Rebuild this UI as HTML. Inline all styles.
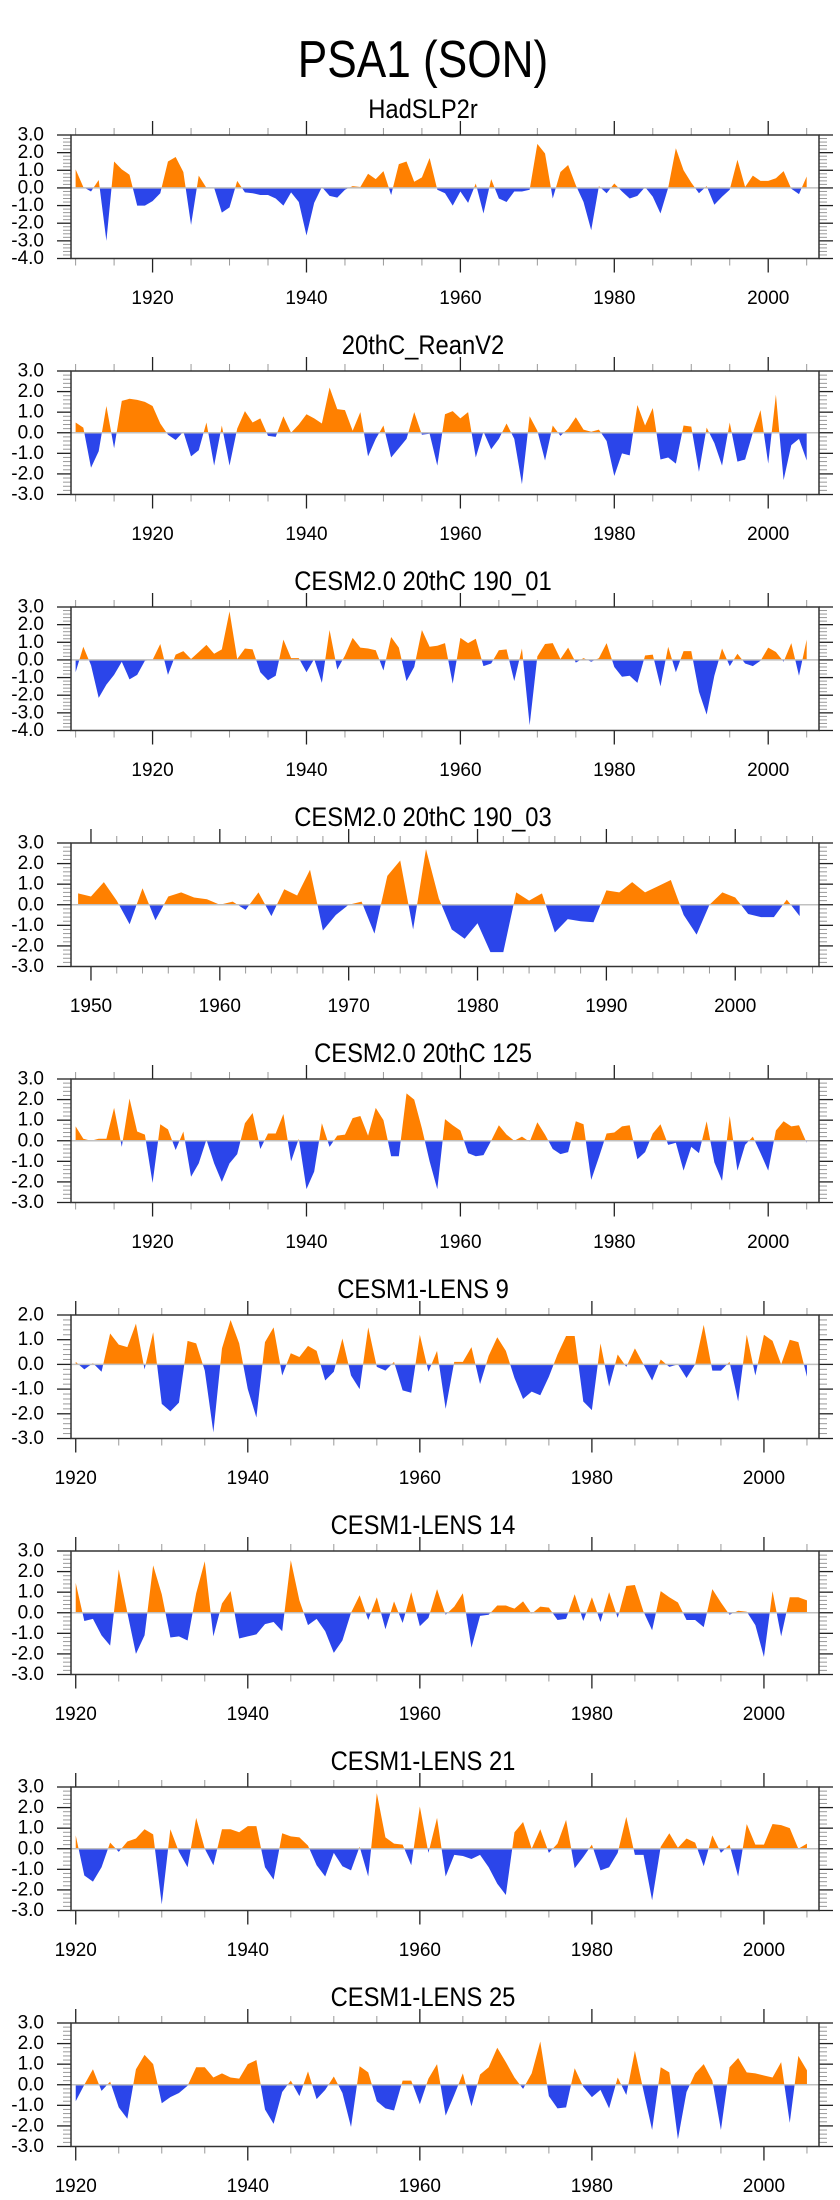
<!DOCTYPE html>
<html>
<head>
<meta charset="utf-8">
<style>
  html, body { margin: 0; padding: 0; background: #ffffff; }
  body { width: 840px; height: 2200px; overflow: hidden; }
  svg { display: block; font-family: "Liberation Sans", Arial, sans-serif; }
</style>
</head>
<body>
<svg id="chart" width="840" height="2200" viewBox="0 0 840 2200" xmlns="http://www.w3.org/2000/svg">
  <rect x="0" y="0" width="840" height="2200" fill="#ffffff"/>
  <text x="0" y="0" font-size="52" text-anchor="middle" fill="#000" transform="translate(423,77) scale(0.85,1)">PSA1 (SON)</text>
  <defs id="defs"></defs>
</svg>
<script>
// ---------- data ----------
const panelTitles = ["HadSLP2r", "20thC_ReanV2", "CESM2.0 20thC 190_01", "CESM2.0 20thC 190_03", "CESM2.0 20thC 125", "CESM1-LENS 9", "CESM1-LENS 14", "CESM1-LENS 21", "CESM1-LENS 25"];
const startYears = [1910, 1910, 1910, 1949, 1910, 1920, 1920, 1920, 1920];
const yMins = [-4, -3, -4, -3, -3, -3, -3, -3, -3];
const yMaxs = [3, 3, 3, 3, 3, 2, 3, 3, 3];
const xMins = [1909.4, 1909.4, 1909.4, 1948.45, 1909.4, 1919.45, 1919.45, 1919.45, 1919.45];
const xMaxs = [2006.6, 2006.6, 2006.6, 2006.5, 2006.6, 2006.4, 2006.4, 2006.4, 2006.4];
const majorStep = [20, 20, 20, 10, 20, 20, 20, 20, 20];
const minorStep = [5, 5, 5, 2, 5, 5, 5, 5, 5];

const hadslp2r = [
 1.05,0.05,-0.2,0.45,-3.0,1.5,1.05,0.75,-1.0,-1.0,
 -0.75,-0.3,1.5,1.75,0.9,-2.1,0.7,0.0,0.0,-1.4,
 -1.1,0.4,-0.25,-0.3,-0.4,-0.4,-0.6,-1.0,-0.25,-0.8,
 -2.7,-0.85,0.05,-0.45,-0.55,-0.1,0.1,0.05,0.8,0.5,
 0.95,-0.4,1.35,1.5,0.35,0.6,1.7,-0.1,-0.3,-1.0,
 -0.2,-0.85,0.25,-1.45,0.5,-0.6,-0.8,-0.2,-0.2,-0.1,
 2.5,1.95,-0.6,0.9,1.3,0.15,-0.8,-2.4,0.1,-0.3,
 0.25,-0.2,-0.6,-0.45,0.05,-0.5,-1.45,0.0,2.25,1.0,
 0.3,-0.3,0.1,-0.95,-0.5,-0.1,1.6,0.05,0.7,0.4,
 0.4,0.55,0.95,-0.05,-0.35,0.65];
const reanV2 = [
 0.5,0.25,-1.7,-0.9,1.3,-0.75,1.55,1.65,1.6,1.5,
 1.3,0.45,-0.1,-0.35,0.05,-1.15,-0.85,0.5,-1.6,0.35,
 -1.6,0.2,1.05,0.5,0.7,-0.15,-0.2,0.8,0.0,0.4,
 0.9,0.7,0.45,2.2,1.15,1.1,0.1,1.0,-1.15,-0.3,
 0.35,-1.2,-0.75,-0.3,1.0,-0.1,-0.05,-1.6,0.9,1.05,
 0.7,1.0,-1.2,0.05,-0.8,-0.3,0.45,-0.3,-2.5,0.8,
 0.1,-1.35,0.35,-0.15,0.2,0.75,0.15,0.05,0.15,-0.4,
 -2.1,-1.0,-1.1,1.35,0.35,1.2,-1.3,-1.2,-1.5,0.35,
 0.3,-1.9,0.25,-0.5,-1.6,0.5,-1.4,-1.3,0.0,1.1,
 -1.5,1.85,-2.3,-0.6,-0.3,-1.35];
const cesm2_190_01 = [
 -0.7,0.75,-0.3,-2.15,-1.4,-0.85,-0.1,-1.1,-0.85,-0.05,
 0.0,0.9,-0.85,0.3,0.5,0.05,0.45,0.85,0.35,0.6,
 2.75,0.05,0.65,0.6,-0.7,-1.15,-0.9,1.15,0.1,0.1,
 -0.7,0.05,-1.3,1.7,-0.55,0.25,1.25,0.7,0.65,0.55,
 -0.6,1.3,0.7,-1.2,-0.4,1.7,0.75,0.8,0.95,-1.35,
 1.25,0.95,1.2,-0.35,-0.2,0.55,0.6,-1.2,0.65,-3.7,
 0.2,0.9,0.95,0.05,0.7,-0.15,0.1,-0.1,0.1,0.95,
 -0.4,-0.95,-0.9,-1.3,0.25,0.3,-1.5,0.75,-0.7,0.5,
 0.5,-1.8,-3.1,-0.9,0.65,-0.35,0.35,-0.2,-0.35,-0.05,
 0.7,0.45,-0.1,0.95,-0.9,1.15];
const cesm2_190_03 = [
 0.55,
 0.4,1.1,0.2,-0.95,0.8,-0.75,0.4,0.6,0.35,0.27,
 0.0,0.15,-0.25,0.6,-0.55,0.75,0.45,1.7,-1.25,-0.5,
 0.0,0.15,-1.4,1.4,2.15,-1.2,2.7,0.3,-1.2,-1.65,
 -0.9,-2.3,-2.3,0.6,0.2,0.55,-1.35,-0.7,-0.8,-0.85,
 0.7,0.6,1.1,0.6,0.9,1.2,-0.5,-1.45,0.0,0.6,
 0.35,-0.45,-0.6,-0.6,0.25,-0.55];
const cesm2_125 = [
 0.7,0.1,0.0,0.1,0.1,1.6,-0.3,2.05,0.45,0.3,
 -2.05,0.8,0.55,-0.45,0.45,-1.75,-1.1,0.05,-1.1,-2.0,
 -1.1,-0.65,0.85,1.35,-0.4,0.35,0.35,1.3,-1.0,0.1,
 -2.35,-1.5,0.85,-0.3,0.25,0.3,1.1,1.2,0.25,1.6,
 1.0,-0.75,-0.75,2.3,2.0,0.6,-1.0,-2.35,1.05,0.75,
 0.5,-0.6,-0.75,-0.7,0.0,0.75,0.3,0.0,0.2,-0.05,
 0.9,0.3,-0.4,-0.65,-0.55,0.95,0.8,-1.9,-0.8,0.35,
 0.4,0.7,0.75,-0.9,-0.55,0.35,0.8,-0.2,-0.1,-1.45,
 -0.3,-0.6,0.95,-1.05,-1.95,1.2,-1.45,-0.2,0.2,-0.6,
 -1.45,0.5,0.95,0.7,0.75,-0.1];
const lens9 = [
 0.1,-0.2,0.05,-0.3,1.25,0.8,0.7,1.65,-0.2,1.3,
 -1.6,-1.9,-1.55,0.95,0.85,-0.25,-2.75,0.65,1.8,0.85,
 -1.0,-2.15,0.9,1.5,-0.45,0.45,0.3,0.75,0.55,-0.65,
 -0.3,1.05,-0.45,-1.0,1.5,-0.1,-0.25,0.1,-1.05,-1.15,
 1.2,-0.3,0.55,-1.8,0.1,0.1,0.7,-0.8,0.35,1.1,
 0.55,-0.55,-1.4,-1.1,-1.25,-0.5,0.4,1.15,1.15,-1.5,
 -1.85,0.85,-0.9,0.4,-0.1,0.65,0.0,-0.65,0.2,-0.1,
 0.0,-0.55,0.0,1.6,-0.25,-0.25,0.1,-1.5,1.2,-0.45,
 1.2,0.95,0.0,1.0,0.9,-0.5];
const lens14 = [
 1.45,-0.4,-0.3,-1.1,-1.6,2.1,0.0,-2.0,-1.1,2.3,
 0.9,-1.2,-1.15,-1.35,0.95,2.5,-1.15,0.45,1.05,-1.25,
 -1.15,-1.05,-0.55,-0.45,-0.9,2.55,0.6,-0.6,-0.3,-0.9,
 -1.95,-1.35,0.0,0.85,-0.35,0.75,-0.8,0.55,-0.5,1.0,
 -0.65,-0.25,1.15,-0.1,0.3,0.95,-1.7,-0.15,-0.1,0.35,
 0.35,0.2,0.55,-0.05,0.3,0.25,-0.35,-0.3,0.9,-0.4,
 0.75,-0.45,1.0,-0.25,1.3,1.35,0.05,-0.85,1.05,0.75,
 0.5,-0.35,-0.35,-0.7,1.15,0.5,-0.1,0.1,0.05,-0.6,
 -2.15,1.05,-1.15,0.75,0.75,0.6];
const lens21 = [
 0.65,-1.3,-1.6,-0.9,0.3,-0.15,0.35,0.5,0.95,0.7,
 -2.7,0.95,-0.15,-0.9,1.5,0.0,-0.8,0.95,0.95,0.8,
 1.1,1.1,-0.9,-1.5,0.75,0.6,0.55,0.15,-0.8,-1.35,
 -0.2,-0.85,-1.05,0.1,-1.35,2.7,0.55,0.25,0.2,-0.8,
 2.05,-0.2,1.5,-1.35,-0.3,-0.35,-0.5,-0.3,-0.9,-1.7,
 -2.25,0.8,1.3,0.0,0.95,-0.2,0.25,1.4,-0.95,-0.4,
 0.2,-1.05,-0.9,-0.2,1.55,-0.3,-0.3,-2.5,0.1,0.75,
 0.05,0.5,0.3,-0.85,0.65,-0.2,0.2,-1.35,1.2,0.2,
 0.2,1.2,1.15,1.0,0.0,0.25];
const lens25 = [
 -0.8,0.0,0.75,-0.3,0.15,-1.1,-1.65,0.75,1.45,1.0,
 -0.9,-0.6,-0.4,-0.05,0.85,0.85,0.35,0.55,0.35,0.3,
 1.0,1.2,-1.2,-1.9,-0.35,0.2,-0.55,0.65,-0.7,-0.25,
 0.4,-0.4,-2.05,0.9,0.6,-0.8,-1.15,-1.25,0.2,0.2,
 -0.95,0.3,1.0,-1.5,-0.5,0.55,-1.05,0.5,0.85,1.8,
 1.1,0.35,-0.2,0.55,2.1,-0.55,-1.15,-1.1,0.8,-0.1,
 -0.6,-0.25,-1.15,0.35,-0.5,1.65,-0.3,-2.2,0.85,0.6,
 -2.65,-0.35,0.55,1.0,0.2,-2.2,0.85,1.3,0.6,0.55,
 0.45,0.35,1.1,-1.85,1.4,0.7];
const panelSeries = [hadslp2r, reanV2, cesm2_190_01, cesm2_190_03, cesm2_125, lens9, lens14, lens21, lens25];

// ---------- layout ----------
const NS = "http://www.w3.org/2000/svg";
const svg = document.getElementById("chart");
const defs = document.getElementById("defs");
const L = 71, R = 819, TOP0 = 135, PITCH = 236, H = 123.5;
const ORANGE = "#ff8000", BLUE = "#2b45ea";

function mk(tag, attrs, parent) {
  const e = document.createElementNS(NS, tag);
  for (const k in attrs) e.setAttribute(k, attrs[k]);
  (parent || svg).appendChild(e);
  return e;
}
function fmt(v) { return (v < 0 ? "-" : "") + Math.abs(v).toFixed(1); }

for (let p = 0; p < panelSeries.length; p++) {
  const top = TOP0 + p * PITCH, bot = top + H;
  const xmin = xMins[p], xmax = xMaxs[p], ymin = yMins[p], ymax = yMaxs[p];
  const xs = v => L + (v - xmin) / (xmax - xmin) * (R - L);
  const ys = v => top + (ymax - v) / (ymax - ymin) * H;
  const g = mk("g", {});
  
  

  const t = mk("text", {x: 0, y: 0, "font-size": 27, "text-anchor": "middle", fill: "#000", transform: "translate(423," + (top - 17) + ") scale(0.88,1)"}, g);
  t.textContent = panelTitles[p];
  
  

  // fill
  const vals = panelSeries[p];
  const y0 = ys(0);
  let d = "M" + xs(startYears[p]).toFixed(2) + "," + y0.toFixed(2);
  for (let i = 0; i < vals.length; i++) d += " L" + xs(startYears[p] + i).toFixed(2) + "," + ys(vals[i]).toFixed(2);
  d += " L" + xs(startYears[p] + vals.length - 1).toFixed(2) + "," + y0.toFixed(2) + " Z";
  const cpPos = mk("clipPath", {id: "cpos" + p}, defs);
  mk("rect", {x: L, y: top, width: R - L, height: y0 - top}, cpPos);
  const cpNeg = mk("clipPath", {id: "cneg" + p}, defs);
  mk("rect", {x: L, y: y0, width: R - L, height: bot - y0}, cpNeg);
  const pos = mk("path", {d: d, fill: ORANGE, "clip-path": "url(#cpos" + p + ")"}, g);
  
  
  const neg = mk("path", {d: d, fill: BLUE, "clip-path": "url(#cneg" + p + ")"}, g);
  
  
  const zl = mk("line", {x1: L, x2: R, y1: y0, y2: y0, stroke: "#c0c0c0", "stroke-width": 1.5}, g);
  
  

  // y ticks
  for (let k = Math.round(ymin * 5); k <= Math.round(ymax * 5); k++) {
    const v = k / 5, yy = ys(v);
    const major = (k % 5 === 0);
    const len = major ? 14 : 8, col = major ? "#222" : "#999";
    mk("line", {x1: L - len, x2: L, y1: yy, y2: yy, stroke: col, "stroke-width": major ? 1.3 : 1}, g);
    mk("line", {x1: R, x2: R + len, y1: yy, y2: yy, stroke: col, "stroke-width": major ? 1.3 : 1}, g);
    if (major) {
      const lab = mk("text", {x: 44, y: yy, "font-size": 19, "text-anchor": "end", "dominant-baseline": "central", fill: "#000"}, g);
      lab.textContent = fmt(v);
      
      
    }
  }
  // x ticks
  const first = Math.ceil(xmin / minorStep[p]) * minorStep[p];
  for (let yr = first; yr <= xmax; yr += minorStep[p]) {
    const xx = xs(yr);
    const major = (yr % majorStep[p] === 0);
    const len = major ? 14 : 7, col = major ? "#222" : "#999";
    mk("line", {x1: xx, x2: xx, y1: top - len, y2: top, stroke: col, "stroke-width": major ? 1.3 : 1}, g);
    mk("line", {x1: xx, x2: xx, y1: bot, y2: bot + len, stroke: col, "stroke-width": major ? 1.3 : 1}, g);
    if (major) {
      const lab = mk("text", {x: xx, y: bot + 40, "font-size": 19, "text-anchor": "middle", "dominant-baseline": "central", fill: "#000"}, g);
      lab.textContent = String(yr);
      
      
    }
  }
  const fr = mk("rect", {x: L, y: top, width: R - L, height: H, fill: "none", stroke: "#333", "stroke-width": 1.5}, g);
  
  
}
</script>
</body>
</html>
